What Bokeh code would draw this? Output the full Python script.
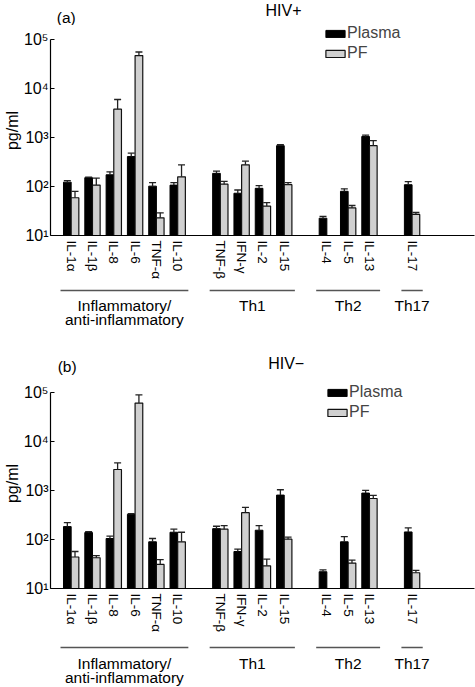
import math
from bokeh.plotting import figure
from bokeh.layouts import column
from bokeh.models import (Range1d, FixedTicker, Whisker, TeeHead, ColumnDataSource,
                          Legend, LegendItem)
from bokeh.embed import file_html
from bokeh.resources import INLINE
from bokeh.core.properties import value

nan = float("nan")

# ---------------- data ----------------
cytokines = ["IL-1α", "IL-1β", "IL-8", "IL-6", "TNF-α", "IL-10",
             "TNF-β", "IFN-γ", "IL-2", "IL-15",
             "IL-4", "IL-5", "IL-13",
             "IL-17"]
cyto_group = [0, 0, 0, 0, 0, 0, 1, 1, 1, 1, 2, 2, 2, 3]
group_names = ["Inflammatory/\nanti-inflammatory", "Th1", "Th2", "Th17"]

# HIV+ (panel a): mean and top of error bar
hivpos_plasma = [123, 152, 174, 410, 102, 107, 186, 73, 92, 684, 22.6, 80, 1055, 109]
hivpos_plasma_up = [132, 156, 200, 480, 120, 120, 207, 85, 104, 720, 24.5, 90, 1120, 126]
hivpos_pf = [59, 107, 3800, 47300, 23, 158, 112, 278, 40, 109, nan, 36.6, 684, 27]
hivpos_pf_up = [80, 149, 6000, 56000, 29, 277, 127, 330, 47, 120, nan, 41, 870, 29.5]

# HIV- (panel b)
hivneg_plasma = [184, 139, 105, 328, 90, 141, 167, 57, 155, 810, 22, 90, 890, 143]
hivneg_plasma_up = [221, 145, 117, 338, 105, 163, 187, 64, 192, 1040, 24, 115, 1010, 173]
hivneg_pf = [44, 42.5, 2700, 61400, 31, 90, 163, 354, 29, 102, nan, 33, 690, 21]
hivneg_pf_up = [57, 47, 3670, 90000, 39, 141, 192, 455, 40, 112, nan, 38, 800, 23.5]

y_ticks = [10, 100, 1000, 10000, 100000]
y_tick_labels = ["10¹", "10²", "10³", "10⁴", "10⁵"]

# ---------------- layout ----------------
FONT = "Liberation Sans"
W = 475
BL, BR = 49, 1
FRAME_H = 212
BOTTOM = 45
Y_TOP = 1.95e5      # frame extends a little above 10^5 to hold the legend
BAR_W = 0.36
OFF = 0.18

slots = [i + g for i, g in enumerate(cyto_group)]
xr = Range1d(-0.97, 18.93)

grp_first = [min(s for s, g in zip(slots, cyto_group) if g == k) for k in range(len(group_names))]
grp_last = [max(s for s, g in zip(slots, cyto_group) if g == k) for k in range(len(group_names))]
grp_x0 = [f - 0.5 for f in grp_first]
grp_x1 = [l + 0.5 for l in grp_last]
grp_xc = [(a + b) / 2 for a, b in zip(grp_x0, grp_x1)]


def bar_source(vals, ups, shift):
    xs, tops, upv = [], [], []
    for s, v, u in zip(slots, vals, ups):
        if not (isinstance(v, float) and math.isnan(v)):
            xs.append(s + shift)
            tops.append(v)
            upv.append(u)
    return ColumnDataSource(dict(x=xs, top=tops, up=upv))


def blank(height, xrange, yrange, left=0, right=0):
    f = figure(width=W, height=height, x_range=xrange, y_range=yrange,
               output_backend="svg", toolbar_location=None,
               x_axis_location=None, y_axis_location=None,
               min_border_left=left, min_border_right=right,
               min_border_top=0, min_border_bottom=0)
    f.outline_line_color = None
    f.grid.visible = False
    return f


def make_panel(tag, title, plasma, plasma_up, pf, pf_up,
               head_h, tag_xy, title_xy, leg_loc, group_h, line_y, text_y):
    # header with panel tag and title
    h = blank(head_h, Range1d(0, W), Range1d(head_h, 0))
    h.text(x=[tag_xy[0]], y=[tag_xy[1]], text=[tag], text_align="left",
           text_baseline="middle", text_font=value(FONT), text_font_size="15.5px",
           text_color="black")
    h.text(x=[title_xy[0]], y=[title_xy[1]], text=[title], text_align="center",
           text_baseline="middle", text_font=value(FONT), text_font_size="16px",
           text_color="black")

    p = figure(width=W, height=FRAME_H + BOTTOM, y_axis_type="log",
               x_range=xr, y_range=Range1d(10, Y_TOP),
               output_backend="svg", toolbar_location=None,
               min_border_left=BL, min_border_right=BR,
               min_border_top=0, min_border_bottom=BOTTOM)
    p.outline_line_color = None
    p.grid.visible = False

    p.yaxis.ticker = FixedTicker(ticks=y_ticks)
    p.yaxis.bounds = (10, 1e5)
    p.yaxis.major_label_overrides = dict(zip(y_ticks, y_tick_labels))
    p.yaxis.major_tick_in = 4
    p.yaxis.major_tick_out = 0
    p.yaxis.minor_tick_line_color = None
    p.yaxis.major_label_standoff = 2
    p.yaxis.major_label_text_font = FONT
    p.yaxis.major_label_text_font_size = "16px"
    p.yaxis.major_label_text_color = "black"
    p.yaxis.axis_line_color = "black"
    p.yaxis.axis_line_width = 1.2
    p.yaxis.axis_label = "pg/ml"
    p.yaxis.axis_label_standoff = 0
    p.yaxis.axis_label_text_font = FONT
    p.yaxis.axis_label_text_font_size = "16px"
    p.yaxis.axis_label_text_font_style = "normal"
    p.yaxis.axis_label_text_color = "black"

    p.xaxis.ticker = FixedTicker(ticks=slots)
    p.xaxis.major_label_overrides = dict(zip(slots, cytokines))
    p.xaxis.major_label_orientation = "vertical"
    p.xaxis.major_tick_line_color = None
    p.xaxis.major_tick_in = 0
    p.xaxis.major_tick_out = 0
    p.xaxis.minor_tick_line_color = None
    p.xaxis.major_label_standoff = 5
    p.xaxis.major_label_text_font = FONT
    p.xaxis.major_label_text_font_size = "13.5px"
    p.xaxis.major_label_text_color = "black"
    p.xaxis.axis_line_color = "black"
    p.xaxis.axis_line_width = 1.2

    src_pl = bar_source(plasma, plasma_up, -OFF)
    src_pf = bar_source(pf, pf_up, OFF)
    r_pl = p.vbar(x="x", top="top", bottom=10, width=BAR_W, source=src_pl,
                  fill_color="black", line_color="black", line_width=1)
    r_pf = p.vbar(x="x", top="top", bottom=10, width=BAR_W, source=src_pf,
                  fill_color="#d0d0d0", line_color="#111111", line_width=1.2)
    for src in (src_pl, src_pf):
        p.add_layout(Whisker(source=src, base="x", upper="up", lower="top",
                             dimension="height", line_color="#222222", line_width=1.3,
                             upper_head=TeeHead(size=7, line_color="#222222", line_width=1.3),
                             lower_head=None, level="glyph"))

    legend = Legend(items=[LegendItem(label="Plasma", renderers=[r_pl]),
                           LegendItem(label="PF", renderers=[r_pf])],
                    location=leg_loc, glyph_width=24, glyph_height=9,
                    label_height=20, label_standoff=0, spacing=0, padding=0, margin=0,
                    border_line_color=None, background_fill_alpha=0,
                    label_text_font=FONT, label_text_font_size="16px")
    p.add_layout(legend)

    g = blank(group_h, xr, Range1d(group_h, 0), left=BL, right=BR)
    g.segment(x0=grp_x0, x1=grp_x1, y0=line_y, y1=line_y,
              line_color="#555555", line_width=1.5)
    g.text(x=grp_xc, y=text_y, text=group_names, text_align="center",
           text_baseline="top", text_font=value(FONT), text_font_size="15.5px",
           text_line_height=0.88, text_color="black")
    return [h, p, g]


panel_a = make_panel("(a)", "HIV+", hivpos_plasma, hivpos_plasma_up, hivpos_pf, hivpos_pf_up,
                     head_h=25, tag_xy=(7, 16.5), title_xy=(261, 10),
                     leg_loc=(273, 172), group_h=58, line_y=8, text_y=14)
panel_b = make_panel("(b)", "HIV−", hivneg_plasma, hivneg_plasma_up, hivneg_pf, hivneg_pf_up,
                     head_h=38, tag_xy=(8, 25.5), title_xy=(264, 23),
                     leg_loc=(275, 166), group_h=52, line_y=12, text_y=19)

layout = column(*panel_a, *panel_b, spacing=0)
open("out.html", "w").write(file_html(layout, INLINE))
